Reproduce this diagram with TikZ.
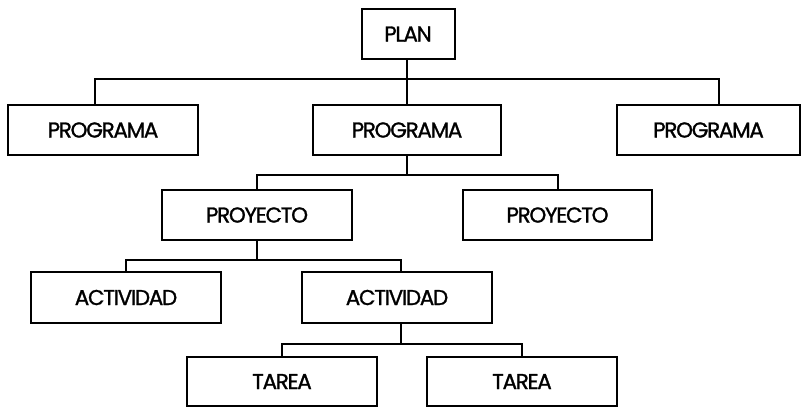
\documentclass[tikz,border=0pt]{standalone}
\usepackage{fontspec}
\setmainfont{Poppins}
\begin{document}
\begin{tikzpicture}[x=1pt,y=-1pt,
  box/.style={draw,line width=2pt,minimum height=50pt,inner sep=0pt,
    font=\fontsize{21.5}{21.5}\selectfont\addfontfeature{LetterSpace=-6,FakeBold=1.2}},
  conn/.style={line width=2pt}]
\useasboundingbox (0,0) rectangle (802,408);
\node[box,minimum width=93pt] (plan) at (408,34) {PLAN};
\node[box,minimum width=190pt] (p1) at (103,130) {PROGRAMA};
\node[box,minimum width=188pt] (p2) at (407,130) {PROGRAMA};
\node[box,minimum width=183pt] (p3) at (708.5,130) {PROGRAMA};
\node[box,minimum width=190pt] (pr1) at (257,215) {PROYECTO};
\node[box,minimum width=189pt] (pr2) at (557.5,215) {PROYECTO};
\node[box,minimum width=190pt,minimum height=51pt] (a1) at (126,297.5) {ACTIVIDAD};
\node[box,minimum width=190pt,minimum height=51pt] (a2) at (397,297.5) {ACTIVIDAD};
\node[box,minimum width=190pt,minimum height=49pt] (t1) at (282,381.5) {TAREA};
\node[box,minimum width=190pt,minimum height=49pt] (t2) at (522,381.5) {TAREA};
\coordinate (b1) at (407,79);
\coordinate (b2) at (407,175);
\coordinate (b3) at (257,260);
\coordinate (b4) at (401,344);
\draw[conn] ([xshift=-1pt]plan.south) -- (b1);
\draw[conn] ([xshift=-8pt]p1.north) |- (b1) -| ([xshift=10.5pt]p3.north);
\draw[conn] (b1) -- (p2.north);
\draw[conn] (p2.south) -- (b2);
\draw[conn] (pr1.north) |- (b2) -| (pr2.north);
\draw[conn] (pr1.south) -- (b3);
\draw[conn] (a1.north) |- (b3) -| ([xshift=4pt]a2.north);
\draw[conn] ([xshift=4pt]a2.south) -- (b4);
\draw[conn] (t1.north) |- (b4) -| (t2.north);
\end{tikzpicture}
\end{document}
